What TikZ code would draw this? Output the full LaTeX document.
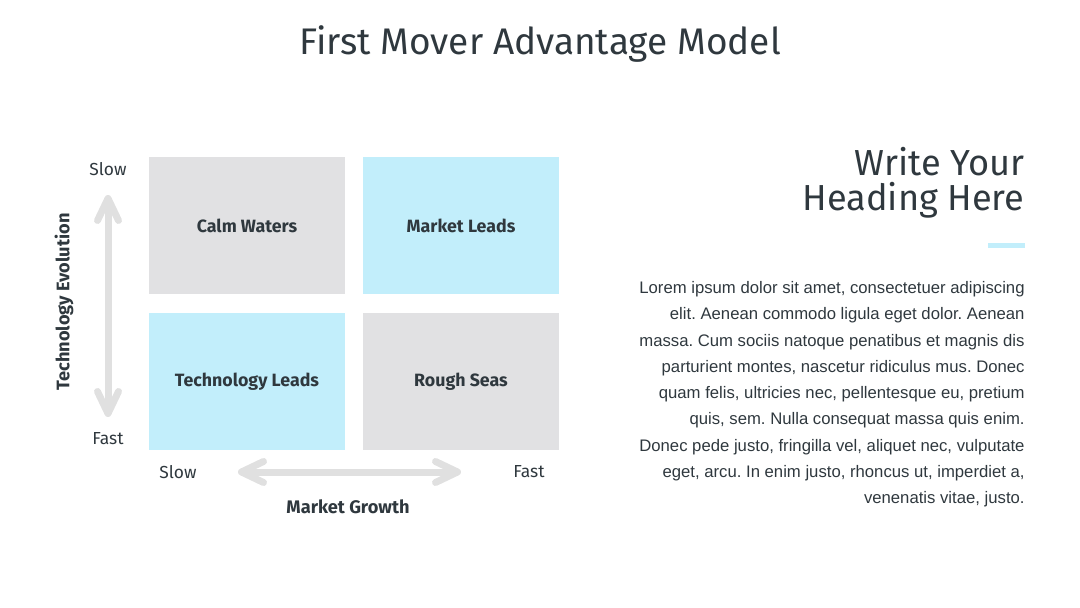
\documentclass[tikz,border=0pt]{standalone}
\usepackage{fontspec}
\setmainfont{Fira Sans}
\newfontfamily\bodyfont{Liberation Sans}
\usetikzlibrary{arrows.meta}

\definecolor{inkdark}{HTML}{2F383E}
\definecolor{quadgray}{HTML}{E1E1E3}
\definecolor{quadblue}{HTML}{C2EEFB}
\definecolor{arrowgray}{HTML}{E0E0E0}

\begin{document}
\frenchspacing
\begin{tikzpicture}[x=0.5pt, y=-0.5pt,
    quad/.style={minimum width=98pt, minimum height=68.5pt, inner sep=0pt,
      font=\bfseries\fontsize{8.9}{10}\selectfont, text=inkdark},
    axislabel/.style={inner sep=0pt, font=\fontsize{8.7}{10}\selectfont, text=inkdark},
    axistitle/.style={inner sep=0pt, font=\bfseries\fontsize{9.1}{10}\selectfont, text=inkdark},
    bigarrow/.style={draw=arrowgray, line width=3.5pt, line cap=round,
      {Straight Barb[length=11pt, width=10.5pt, round]}-{Straight Barb[length=11pt, width=10.5pt, round]}}]
    \useasboundingbox (0,0) rectangle (1080,608);

    % title
    \node[inner sep=0pt, font=\fontsize{18.5}{20}\selectfont, text=inkdark] (title) at (540,44) {First Mover Advantage Model};

    % quadrants
    \node[quad, fill=quadgray] (calm) at (247,225.5) {Calm Waters};
    \node[quad, fill=quadblue] (market) at (461,225.5) {Market Leads};
    \node[quad, fill=quadblue] (tech) at (247,381.5) {Technology Leads};
    \node[quad, fill=quadgray] (rough) at (461,381.5) {Rough Seas};

    % vertical axis
    \node[axislabel] (vslow) at (108,169) {Slow};
    \node[axislabel] (vfast) at (108,439) {Fast};
    \coordinate (vtop) at (108,195);
    \coordinate (vbot) at (108,417);
    \draw[bigarrow] (vtop) -- (vbot);
    \node[axistitle, rotate=90] (vtitle) at (64,302) {Technology Evolution};

    % horizontal axis
    \node[axislabel] (hslow) at (178,472) {Slow};
    \node[axislabel] (hfast) at (529,472) {Fast};
    \coordinate (hleft) at (238,472);
    \coordinate (hright) at (461,472);
    \draw[bigarrow] (hleft) -- (hright);
    \node[axistitle] (htitle) at (348,507) {Market Growth};

    % right column
    \node[inner sep=0pt, anchor=north east, align=right, text=inkdark,
      font=\fontsize{18.1}{17.5}\selectfont] (heading) at (1025,147) {Write Your\\Heading Here};
    \fill[quadblue] (988,243) rectangle (1025,248);
    \node[inner sep=0pt, anchor=north east, align=right, text=inkdark,
      font=\bodyfont\fontsize{8.35}{13.15}\selectfont] (body) at (1025,281)
      {Lorem ipsum dolor sit amet, consectetuer adipiscing\\
       elit. Aenean commodo ligula eget dolor. Aenean\\
       massa. Cum sociis natoque penatibus et magnis dis\\
       parturient montes, nascetur ridiculus mus. Donec\\
       quam felis, ultricies nec, pellentesque eu, pretium\\
       quis, sem. Nulla consequat massa quis enim.\\
       Donec pede justo, fringilla vel, aliquet nec, vulputate\\
       eget, arcu. In enim justo, rhoncus ut, imperdiet a,\\
       venenatis vitae, justo.};
\end{tikzpicture}
\end{document}
